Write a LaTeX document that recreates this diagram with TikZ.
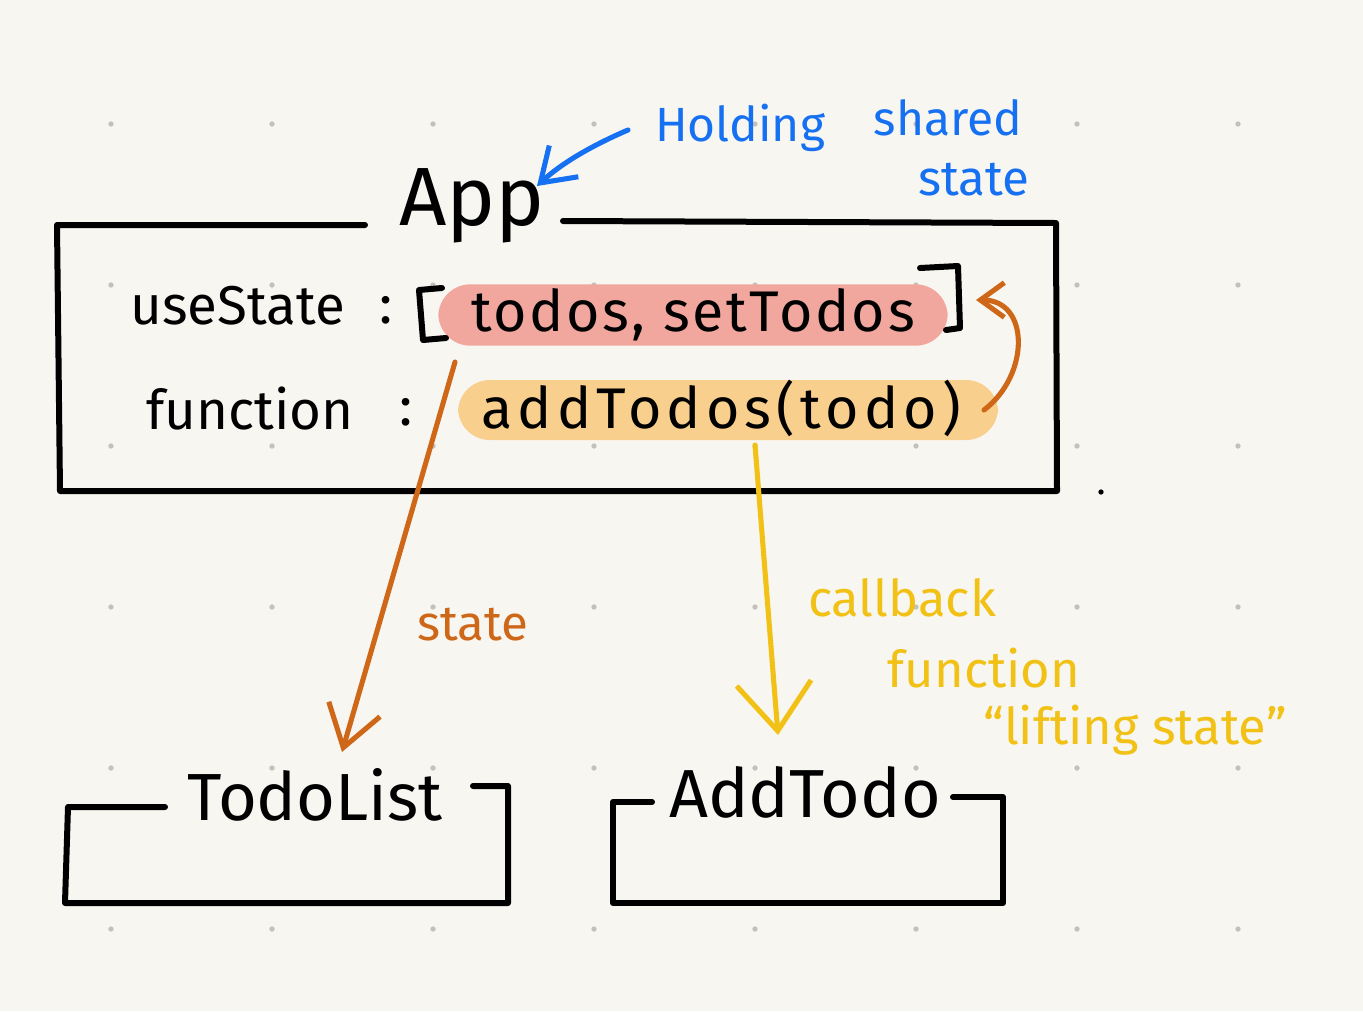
\documentclass[tikz,border=0pt]{standalone}
\usepackage{fontspec}
\setmainfont{Fira Sans}
\usetikzlibrary{arrows.meta}

\definecolor{paper}{RGB}{248,246,241}
\definecolor{griddot}{RGB}{196,193,187}
\definecolor{hlpink}{RGB}{241,167,158}
\definecolor{hlorange}{RGB}{249,207,141}
\definecolor{penorange}{RGB}{206,104,24}
\definecolor{penyellow}{RGB}{241,193,22}
\definecolor{penblue}{RGB}{22,112,242}

\tikzset{every picture/.style={line width=0.75pt}}
\tikzset{
	ink/.style={line width=4.5pt, line cap=round, line join=round},
	pen/.style={line width=3.8pt, line cap=round, line join=round},
	hand/.style={inner sep=0pt, font=\fontsize{#1}{#1}\selectfont},
	wide/.style 2 args={inner sep=0pt, font=\fontsize{#1}{#1}\selectfont\addfontfeature{LetterSpace=#2}},
	hilite/.style={fill=#1, rounded corners=24pt, inner sep=0pt, minimum height=46pt},
}

\begin{document}
\begin{tikzpicture}[x=0.75pt,y=0.75pt,yscale=-1,xscale=1]
	\useasboundingbox (0,0) rectangle (1363,1011);
	%Paper
	\fill [paper] (0,0) rectangle (1363,1011);
	\foreach \i in {0,...,7}
		\foreach \j in {0,...,5}
			\fill [griddot] (111+161*\i,124+161*\j) circle (2pt);

	%Shape: Highlights
	\node [hilite=hlpink, minimum width=382pt] (pair) at (693,315) {};
	\node [hilite=hlorange, minimum width=405pt, minimum height=45pt] (cbk) at (728,410) {};

	%Shape: App box
	\draw [ink] (365,225) -- (57,225) -- (60,491) -- (1057,491) -- (1056,223) -- (563,221) ;
	%Shape: TodoList box
	\draw [ink] (165,807) -- (68,807) -- (65,903) -- (508,903) -- (508,786) -- (473,786) ;
	%Shape: AddTodo box
	\draw [ink] (652,802) -- (613,802) -- (613,903) -- (1003,903) -- (1003,797) -- (953,797) ;
	%Shape: Brackets
	\draw [ink] (442,288) -- (419,290) -- (423,340) -- (446,338) ;
	\draw [ink] (920,268) -- (958,266) -- (960,328) -- (946,330) ;
	\fill (1101,492) circle (2pt);

	% Text Node
	\node [hand=62] (app) at (472,206) {App};
	% Text Node
	\node [hand=41] (use) at (238,306) {useState};
	\node [hand=41] (colA) at (386,310) {:};
	\node [wide={43}{4.5}] (pairtxt) at (pair) {todos, setTodos};
	% Text Node
	\node [hand=41] (fn) at (250,408) {function};
	\node [hand=41] (colB) at (406,412) {:};
	\node [wide={43}{9}] (cbktxt) at (721,408) {addTodos(todo)};
	% Text Node
	\node [hand=50] (tlist) at (315,795) {TodoList};
	\node [hand=51] (atodo) at (805,792) {AddTodo};
	% Text Node
	\node [hand=37, text=penorange] (lblstate) at (473,625) {state};
	\node [hand=38, text=penyellow] (lblcb) at (902,598) {callback};
	\node [hand=38, text=penyellow] (lblfn) at (984,668) {function};
	\node [hand=38, text=penyellow] (lbllift) at (1135,730) {``lifting state''};
	\node [hand=36, text=penblue] (lblhold) at (740,128) {Holding};
	\node [hand=36, text=penblue] (lblshared) at (948,118) {shared};
	\node [hand=37, text=penblue] (lblsstate) at (974,180) {state};

	%Straight Lines
	\coordinate (stsrc) at (455,362);
	\coordinate (sttip) at (342,752);
	\draw [pen, penorange, -{Straight Barb[length=30pt,width=40pt]}] (stsrc) -- (sttip) ;
	\coordinate (cbsrc) at (755,445);
	\coordinate (cbtip) at (778,735);
	\draw [pen, penyellow, -{Straight Barb[length=36pt,width=56pt]}] (cbsrc) -- (cbtip) ;
	\coordinate (holdsrc) at (628,130);
	\coordinate (holdtip) at (537,186);
	\draw [pen, penblue, -{Straight Barb[length=24pt,width=32pt]}] (holdsrc) .. controls (600,142) and (565,160) .. (holdtip) ;
	\coordinate (liftsrc) at (984,410);
	\coordinate (lifttip) at (976,300);
	\draw [pen, penorange, -{Straight Barb[length=18pt,width=26pt]}] (liftsrc) .. controls (1030,375) and (1030,300) .. (lifttip) ;

\end{tikzpicture}
\end{document}
